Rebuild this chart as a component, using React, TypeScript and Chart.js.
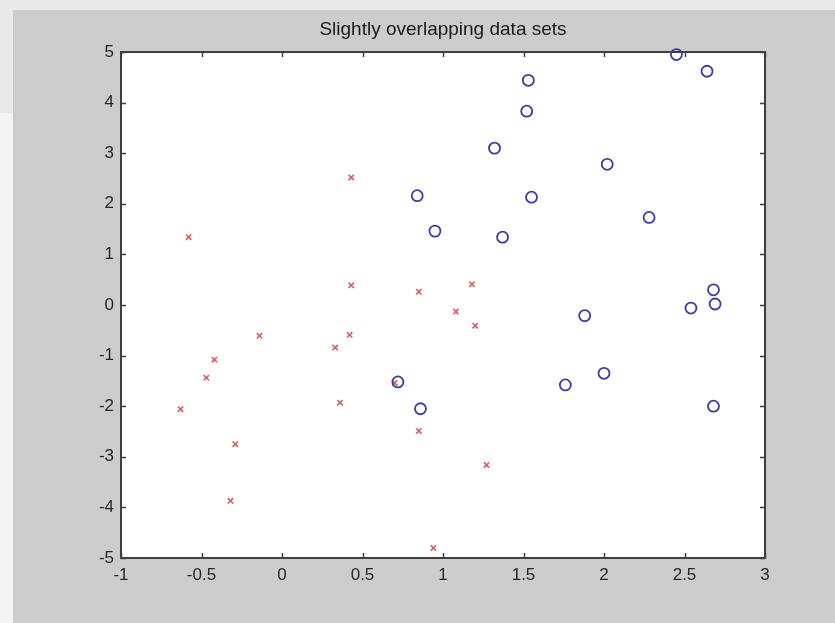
import React, { useEffect, useRef } from "react";
import { Chart, registerables } from "chart.js";

Chart.register(...registerables);

const TITLE = "Slightly overlapping data sets";

const xTickValues = [-1, -0.5, 0, 0.5, 1, 1.5, 2, 2.5, 3];
const yTickValues = [-5, -4, -3, -2, -1, 0, 1, 2, 3, 4, 5];

// Red crosses (first data set)
const redX = [0.43, -0.58, 0.43, 0.85, 1.18, 1.08, 1.2, -0.14, -0.42, -0.47, -0.63, 0.33, 0.42, 0.36, 0.7, 0.85, -0.29, -0.32, 1.27, 0.94];
const redY = [2.52, 1.34, 0.39, 0.26, 0.41, -0.13, -0.41, -0.61, -1.08, -1.44, -2.06, -0.84, -0.59, -1.93, -1.54, -2.49, -2.75, -3.87, -3.16, -4.8];

// Blue circles (second data set)
const blueX = [2.45, 2.64, 1.53, 1.52, 1.32, 2.02, 0.84, 1.55, 2.28, 0.95, 1.37, 2.68, 2.69, 2.54, 1.88, 2.0, 1.76, 0.72, 0.86, 2.68];
const blueY = [4.95, 4.62, 4.44, 3.83, 3.1, 2.78, 2.16, 2.13, 1.73, 1.46, 1.34, 0.3, 0.02, -0.06, -0.21, -1.35, -1.58, -1.52, -2.05, -2.0];

const FRAME_COLOR = "#3f3f3f";
const TICK_LEN = 5;
const FONT_FAMILY = "'Liberation Sans', Arial, Helvetica, sans-serif";

const framePlugin = {
  id: "matlabFrame",
  beforeDraw(chart: any) {
    const { ctx, chartArea: a } = chart;
    ctx.save();
    ctx.fillStyle = "#ffffff";
    ctx.fillRect(a.left, a.top, a.right - a.left, a.bottom - a.top);
    ctx.restore();
  },
  beforeDatasetsDraw(chart: any) {
    const { ctx, chartArea: a, scales } = chart;
    const xs = scales.x;
    const ys = scales.y;
    ctx.save();
    ctx.strokeStyle = FRAME_COLOR;
    ctx.lineWidth = 1.5;
    ctx.beginPath();
    xTickValues.forEach((v) => {
      const px = Math.round(xs.getPixelForValue(v)) + 0.5;
      ctx.moveTo(px, a.bottom);
      ctx.lineTo(px, a.bottom - TICK_LEN);
      ctx.moveTo(px, a.top);
      ctx.lineTo(px, a.top + TICK_LEN);
    });
    yTickValues.forEach((v) => {
      const py = Math.round(ys.getPixelForValue(v)) + 0.5;
      ctx.moveTo(a.left, py);
      ctx.lineTo(a.left + TICK_LEN, py);
      ctx.moveTo(a.right, py);
      ctx.lineTo(a.right - TICK_LEN, py);
    });
    ctx.stroke();
    ctx.lineWidth = 2;
    ctx.strokeRect(a.left, a.top, a.right - a.left, a.bottom - a.top);
    ctx.restore();
  },
  afterDraw(chart: any) {
    const { ctx, chartArea: a } = chart;
    ctx.save();
    ctx.fillStyle = "#1a1a1a";
    ctx.font = `normal 19px ${FONT_FAMILY}`;
    ctx.textAlign = "center";
    ctx.textBaseline = "middle";
    ctx.fillText(TITLE, (a.left + a.right) / 2, a.top - 22);
    ctx.restore();
  },
};

export default function App() {
  const canvasRef = useRef<HTMLCanvasElement | null>(null);

  useEffect(() => {
    const canvas = canvasRef.current;
    if (!canvas) return;
    const redData = redX.map((x, i) => ({ x, y: redY[i] }));
    const blueData = blueX.map((x, i) => ({ x, y: blueY[i] }));
    const tickFont = { family: FONT_FAMILY, size: 17 };

    const chart = new Chart(canvas, {
      type: "scatter",
      data: {
        datasets: [
          {
            label: "set 2",
            data: blueData,
            order: 0,
            pointStyle: "circle",
            pointRadius: 5.5,
            pointHoverRadius: 5.5,
            borderColor: "#3b3ba8",
            backgroundColor: "rgba(0,0,0,0)",
            pointBorderWidth: 1.8,
            showLine: false,
            clip: false as any,
          },
          {
            label: "set 1",
            data: redData,
            order: 1,
            pointStyle: "crossRot",
            pointRadius: 3.8,
            pointHoverRadius: 3.8,
            borderColor: "#d85c5c",
            backgroundColor: "#d85c5c",
            pointBorderWidth: 1.6,
            showLine: false,
            clip: false as any,
          },
        ],
      },
      options: {
        responsive: false,
        animation: false,
        events: [],
        layout: { padding: { left: 0, right: 70, top: 52, bottom: 0 } },
        plugins: {
          legend: { display: false },
          tooltip: { enabled: false },
          title: { display: false },
        },
        scales: {
          x: {
            type: "linear",
            position: "bottom",
            min: -1,
            max: 3,
            afterBuildTicks: (scale: any) => {
              scale.ticks = xTickValues.map((v) => ({ value: v }));
            },
            afterFit: (scale: any) => {
              scale.height = 65;
            },
            grid: { display: false, drawTicks: false },
            border: { display: false },
            ticks: {
              autoSkip: false,
              maxRotation: 0,
              padding: 7,
              color: "#262626",
              font: tickFont,
              callback: (v: any) => String(v),
            },
          },
          y: {
            type: "linear",
            position: "left",
            min: -5,
            max: 5,
            afterBuildTicks: (scale: any) => {
              scale.ticks = yTickValues.map((v) => ({ value: v }));
            },
            afterFit: (scale: any) => {
              scale.width = 121;
            },
            grid: { display: false, drawTicks: false },
            border: { display: false },
            ticks: {
              autoSkip: false,
              padding: 7,
              color: "#262626",
              font: tickFont,
              callback: (v: any) => String(v),
            },
          },
        },
      },
      plugins: [framePlugin],
    } as any);

    return () => chart.destroy();
  }, []);

  return (
    <div style={{ position: "absolute", left: 0, top: 0, width: 835, height: 623, overflow: "hidden", background: "#e9e9e9" }}>
      <div style={{ position: "absolute", left: 0, top: 113, width: 13, height: 510, background: "#f4f4f4" }} />
      <div style={{ position: "absolute", left: 13, top: 10, width: 822, height: 613, background: "#cccccc" }} />
      <canvas ref={canvasRef} width={835} height={623} style={{ position: "absolute", left: 0, top: 0, width: 835, height: 623, display: "block" }} />
    </div>
  );
}
